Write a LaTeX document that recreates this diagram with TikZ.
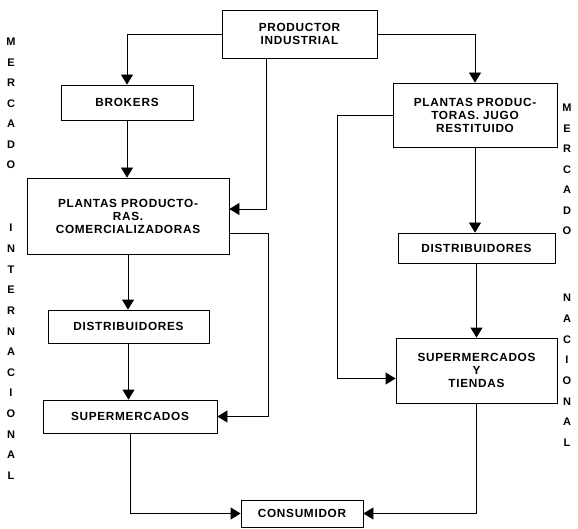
\documentclass[tikz,border=0pt]{standalone}
\usepackage{fontspec}
\setmainfont{Liberation Sans}
\newfontfamily\cajafont[LetterSpace=6]{Liberation Sans}
\usetikzlibrary{arrows.meta}

\tikzset{
  caja/.style={draw, line width=0.8pt, align=center, inner sep=0pt,
    font=\cajafont\bfseries\fontsize{11.8}{13}\selectfont},
  flecha/.style={draw, line width=0.8pt, -{Triangle[width=12pt,length=10pt]}},
  linea/.style={draw, line width=0.8pt},
  letra/.style={inner sep=0pt, font=\bfseries\fontsize{11}{12}\selectfont},
}

\begin{document}
\begin{tikzpicture}[x=1pt,y=-1pt]
    \useasboundingbox (0,0) rectangle (578,529);

    \node[caja, minimum width=155pt, minimum height=48pt] (productor) at (299.5,34) {PRODUCTOR\\INDUSTRIAL};
    \node[caja, minimum width=132pt, minimum height=35pt] (brokers) at (127,102.5) {BROKERS};
    \node[caja, minimum width=202pt, minimum height=76pt] (plantasint) at (128,216) {PLANTAS PRODUCTO-\\RAS.\\COMERCIALIZADORAS};
    \node[caja, minimum width=161pt, minimum height=33pt] (distint) at (128.5,326.5) {DISTRIBUIDORES};
    \node[caja, minimum width=174pt, minimum height=33pt] (superint) at (130,416.5) {SUPERMERCADOS};
    \node[caja, minimum width=122pt, minimum height=27pt] (consumidor) at (302,513.5) {CONSUMIDOR};
    \node[caja, minimum width=164pt, minimum height=64pt] (plantasnac) at (475,115) {PLANTAS PRODUC-\\TORAS. JUGO\\RESTITUIDO};
    \node[caja, minimum width=157pt, minimum height=30pt] (distnac) at (476.5,248) {DISTRIBUIDORES};
    \node[caja, minimum width=161pt, minimum height=65pt] (supernac) at (476.5,370.5) {SUPERMERCADOS\\Y\\TIENDAS};

    % mercado internacional
    \draw[flecha] (productor.west) -| (brokers.north);
    \draw[flecha] ([xshift=-33pt]productor.south) |- ([yshift=7pt]plantasint.east);
    \draw[flecha] (brokers.south) -- (brokers.south |- plantasint.north);
    \draw[flecha] (plantasint.south) -- (plantasint.south |- distint.north);
    \draw[flecha] ([yshift=-17pt]plantasint.east) -- ++(39,0) |- (superint.east);
    \draw[flecha] (distint.south) -- (distint.south |- superint.north);
    \draw[flecha] (superint.south) |- (consumidor.west);

    % mercado nacional
    \draw[flecha] (productor.east) -| (plantasnac.north);
    \draw[flecha] (plantasnac.south) -- (plantasnac.south |- distnac.north);
    \draw[flecha] (plantasnac.west) -- ++(-55,0) |- ([yshift=-8pt]supernac.west);
    \draw[flecha] (distnac.south) -- (distnac.south |- supernac.north);
    \draw[flecha] (supernac.south) |- (consumidor.east);

    \foreach \l [count=\i] in {M,E,R,C,A,D,O}
      \node[letra] (mi\i) at (11,{42+20.5*(\i-1)}) {\l};
    \foreach \l [count=\i] in {I,N,T,E,R,N,A,C,I,O,N,A,L}
      \node[letra] (in\i) at (11,{228+20.65*(\i-1)}) {\l};
    \foreach \l [count=\i] in {M,E,R,C,A,D,O}
      \node[letra] (mn\i) at (567,{108+20.5*(\i-1)}) {\l};
    \foreach \l [count=\i] in {N,A,C,I,O,N,A,L}
      \node[letra] (na\i) at (567,{298+20.7*(\i-1)}) {\l};
\end{tikzpicture}
\end{document}
